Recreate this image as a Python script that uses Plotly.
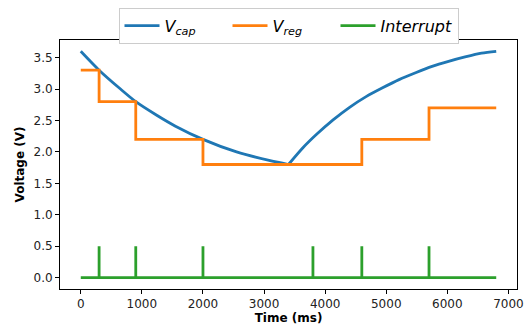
import plotly.graph_objects as go

# Capacitor voltage while discharging (ms, V)
discharge_time = [0, 300, 650, 900, 1250, 1550, 2000, 2550, 3100, 3400]
discharge_volts = [3.60, 3.30, 3.00, 2.80, 2.58, 2.41, 2.20, 2.00, 1.86, 1.80]

# Capacitor voltage while recharging (ms, V)
charge_time = [3400, 3640, 3860, 4130, 4400, 4670, 4940, 5210, 5480,
               5750, 6020, 6290, 6560, 6800]
charge_volts = [1.80, 2.07, 2.28, 2.51, 2.71, 2.88, 3.02, 3.15, 3.26,
                3.36, 3.44, 3.51, 3.57, 3.60]

# Regulator set-point changes (ms) and the level held from each change
vreg_time = [0, 300, 900, 2000, 4600, 5700, 6800]
vreg_volts = [3.3, 2.8, 2.2, 1.8, 2.2, 2.7, 2.7]

# Interrupt events (ms) and pulse height
irq_time = [300, 900, 2000, 3800, 4600, 5700]
irq_level = 0.5
t_end = 6800

# The two capacitor phases are smoothed separately (gap keeps the cusp)
vcap_x = discharge_time + [None] + charge_time
vcap_y = discharge_volts + [None] + charge_volts

# Interrupt trace: a baseline with vertical pulses
irq_x, irq_y = [0], [0.0]
for t in irq_time:
    irq_x += [t, t, t]
    irq_y += [0.0, irq_level, 0.0]
irq_x.append(t_end)
irq_y.append(0.0)

BLUE, ORANGE, GREEN = "#1f77b4", "#ff7f0e", "#2ca02c"
LW = 2.8

fig = go.Figure()
fig.add_trace(go.Scatter(
    x=vcap_x, y=vcap_y, mode="lines", connectgaps=False,
    line=dict(color=BLUE, width=LW, shape="spline", smoothing=0.8),
    name="<i>V</i><sub><i>cap</i></sub>", legendwidth=58))
fig.add_trace(go.Scatter(
    x=vreg_time, y=vreg_volts, mode="lines",
    line=dict(color=ORANGE, width=LW, shape="hv"),
    name="<i>V</i><sub><i>reg</i></sub>", legendwidth=58))
fig.add_trace(go.Scatter(
    x=irq_x, y=irq_y, mode="lines",
    line=dict(color=GREEN, width=LW),
    name="<i>Interrupt</i>", legendwidth=72))

axis_common = dict(
    showgrid=False, zeroline=False,
    showline=True, linecolor="black", linewidth=1, mirror=True,
    ticks="outside", ticklen=4, tickwidth=1, tickcolor="black",
    tickfont=dict(family="DejaVu Sans", size=12, color="#222"),
    ticklabeloverflow="allow", automargin=False,
)

fig.update_xaxes(
    range=[-340, 7140], tickmode="array",
    tickvals=[0, 1000, 2000, 3000, 4000, 5000, 6000, 7000],
    title=dict(text="<b>Time (ms)</b>", standoff=2,
               font=dict(family="DejaVu Sans", size=12, color="black")),
    **axis_common)
fig.update_yaxes(
    range=[-0.18, 3.78], tickmode="array",
    tickvals=[0, 0.5, 1.0, 1.5, 2.0, 2.5, 3.0, 3.5], tickformat=".1f",
    title=dict(text="<b>Voltage (V)</b>", standoff=6,
               font=dict(family="DejaVu Sans", size=12, color="black")),
    **axis_common)

fig.update_layout(
    width=525, height=332,
    margin=dict(l=60, r=8, t=35, b=43),
    paper_bgcolor="white", plot_bgcolor="white",
    font=dict(family="DejaVu Sans", color="black"),
    legend=dict(
        orientation="h", x=0.5, xanchor="center", y=1.13, yanchor="top",
        font=dict(family="DejaVu Sans", size=16, color="black"),
        bordercolor="#cccccc", borderwidth=1, bgcolor="white",
        itemwidth=35,
    ),
)

fig.write_html("out.html")
